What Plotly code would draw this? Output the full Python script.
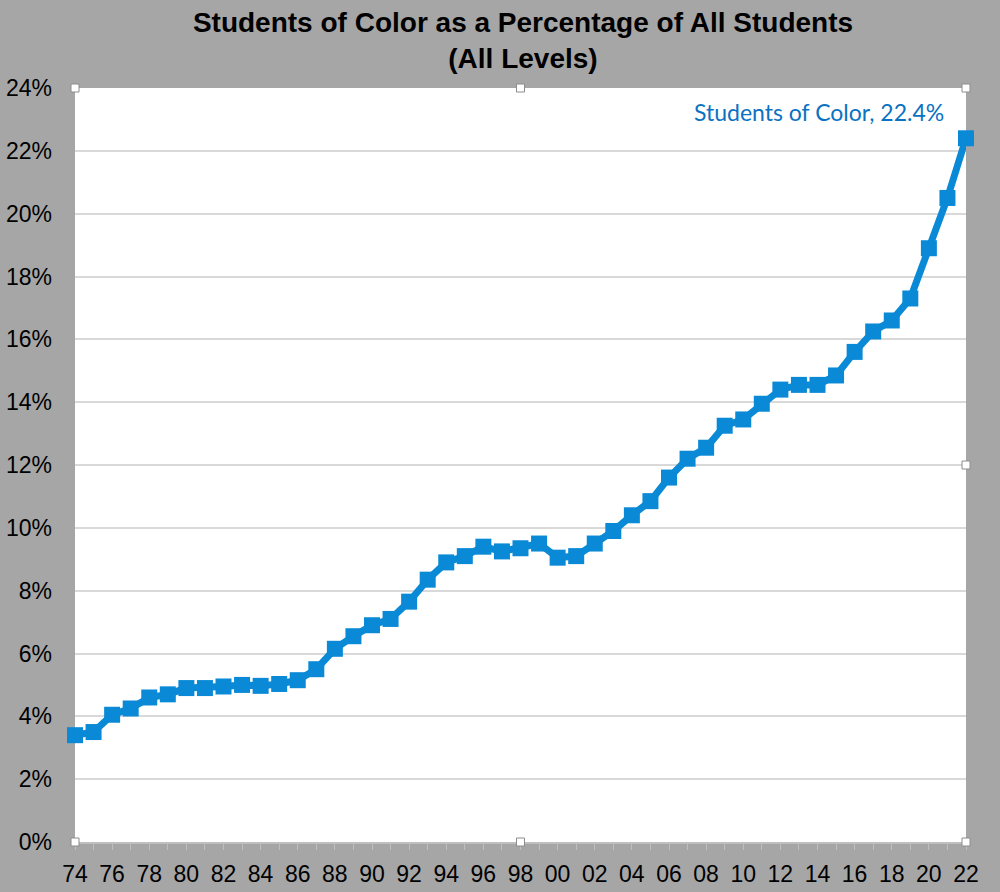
import plotly.graph_objects as go

years = list(range(1974, 2023))
pct = [3.4, 3.5, 4.05, 4.25, 4.6, 4.7, 4.9, 4.9, 4.95, 5.0,
       4.97, 5.03, 5.15, 5.5, 6.15, 6.55, 6.9, 7.1, 7.65, 8.35,
       8.9, 9.1, 9.4, 9.25, 9.35, 9.5, 9.05, 9.1, 9.5, 9.9,
       10.4, 10.85, 11.6, 12.2, 12.55, 13.25, 13.45, 13.95, 14.4, 14.55,
       14.55, 14.85, 15.6, 16.25, 16.6, 17.3, 18.9, 20.5, 22.4]
x_tick_vals = list(range(1974, 2023, 2))
x_tick_text = ["%02d" % (y % 100) for y in x_tick_vals]
y_tick_vals = list(range(0, 25, 2))
y_tick_text = ["%d%%" % v for v in y_tick_vals]
series_name = "Students of Color"
title_text = "Students of Color as a Percentage of All Students<br>(All Levels)"

fig = go.Figure()
fig.add_trace(go.Scatter(
    x=years, y=pct, mode="lines+markers", name=series_name,
    line=dict(color="#0a8ad6", width=7),
    marker=dict(symbol="square", size=16, color="#0a8ad6"),
    cliponaxis=False,
))

fig.add_annotation(
    x=years[-1], y=pct[-1], xref="x", yref="y",
    text="%s, %.1f%%" % (series_name, pct[-1]),
    showarrow=False, xanchor="right", yanchor="middle",
    xshift=-20, yshift=26,
    font=dict(family="Lato, Open Sans, sans-serif", size=23, color="#0b72c2"),
)

# selection handles (Excel artifacts)
handles = [(0, 1), (0.5, 1), (1, 1), (1, 0.5), (0, 0), (0.5, 0), (1, 0)]
for hx, hy in handles:
    fig.add_shape(type="rect", xref="paper", yref="paper",
                  x0=-4, x1=4, y0=-4, y1=4,
                  xsizemode="pixel", ysizemode="pixel",
                  xanchor=hx, yanchor=hy,
                  line=dict(color="#8c8c8c", width=1), fillcolor="white")

fig.update_layout(
    width=1000, height=892,
    paper_bgcolor="#a6a6a6", plot_bgcolor="white",
    margin=dict(l=75, r=34, t=88, b=50, autoexpand=False),
    showlegend=False,
    title=dict(text=title_text, x=0.523, xanchor="center",
               y=1 - 32 / 892, yanchor="middle",
               font=dict(family="Liberation Sans, Arial, sans-serif",
                         size=28, color="black", weight="bold")),
    font=dict(family="Liberation Sans, Arial, sans-serif", color="black"),
)
fig.update_xaxes(
    range=[1974, 2022], tickmode="array", tickvals=x_tick_vals, ticktext=x_tick_text,
    tickfont=dict(size=23), showgrid=False, zeroline=False, automargin=False,
    showline=True, linecolor="#bfbfbf", linewidth=2,
    ticks="outside", ticklen=6, tickcolor="#bfbfbf", tickwidth=1,
    ticklabelstandoff=4,
    minor=dict(dtick=1, tick0=1974, ticks="outside", ticklen=6, tickcolor="#bfbfbf", tickwidth=1),
)
fig.update_yaxes(
    range=[0, 24], tickmode="array", tickvals=y_tick_vals, ticktext=y_tick_text,
    tickfont=dict(size=23), showgrid=True, gridcolor="#d9d9d9", gridwidth=2,
    zeroline=False, showline=False, ticks="", ticklabelstandoff=22, automargin=False,
)

fig.write_html("out.html", config={"displayModeBar": False},
               post_script="document.body.style.margin='0';document.body.style.overflow='hidden';")
